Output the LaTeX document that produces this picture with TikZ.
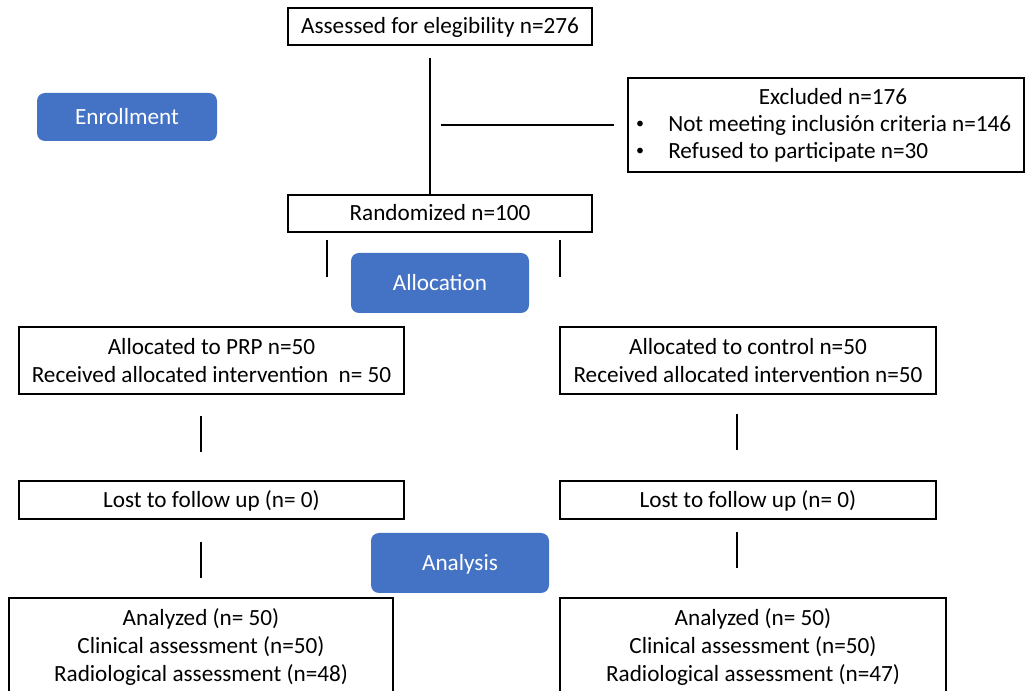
\documentclass[tikz,border=0pt]{standalone}
\usepackage{fontspec}
\setmainfont{Carlito}
\begin{document}
\begin{tikzpicture}[x=0.75pt,y=-0.75pt,
  every node/.style={font=\fontsize{17.4pt}{21pt}\selectfont, inner sep=0pt, text height=11.2pt, text depth=0pt},
  box/.style={draw=black, line width=1.5pt, fill=white, align=center},
  two/.style={text height=32.2pt},
  three/.style={text height=53.2pt},
  phase/.style={fill=phaseblue, rounded corners=6pt, text=white, minimum width=133.5pt, minimum height=45pt},
  bul/.style={font=\fontsize{12pt}{12pt}\selectfont, text height={}, text depth={}},
  conn/.style={line width=2pt, black}]
\definecolor{phaseblue}{HTML}{4472C4}
\useasboundingbox (0,0) rectangle (1026,691);
\clip (0,0) rectangle (1026,691);

% phase labels
\node[phase, minimum height=36pt, minimum width=135pt] (enroll) at (127,117) {Enrollment};
\node[phase] (alloc) at (440,283) {Allocation};
\node[phase] (anal) at (460,563) {Analysis};

% boxes
\node[box, minimum width=228pt, minimum height=27.75pt] (assess) at (440,26.5) {Assessed for elegibility n=276};
\node[box, minimum width=297pt, minimum height=70.5pt] (excl) at (826,125) {};
\node (exclT) at (833,97) {Excluded n=176};
\node[bul] (b1) at (640,124.5) {\textbullet};
\node[anchor=west] (e1) at (668,124.5) {Not meeting inclusión criteria n=146};
\node[bul] (b2) at (640,151.5) {\textbullet};
\node[anchor=west] (e2) at (668,151.5) {Refused to participate n=30};
\node[box, minimum width=228pt, minimum height=27.75pt] (rand) at (440,213.5) {Randomized n=100};

\node[box, two, minimum width=288.75pt, minimum height=50.25pt] (allocA) at (211.5,361) {Allocated to PRP n=50\\Received allocated intervention~ n= 50};
\node[box, two, minimum width=282pt, minimum height=50.25pt] (allocB) at (748,361) {Allocated to control n=50\\Received allocated intervention n=50};

\node[box, minimum width=288.75pt, minimum height=28.5pt] (lostA) at (211.5,500) {Lost to follow up (n= 0)};
\node[box, minimum width=282pt, minimum height=28.5pt] (lostB) at (748,500) {Lost to follow up (n= 0)};

\node[box, three, minimum width=288pt, minimum height=72.75pt] (analA) at (201,646.5) {Analyzed (n= 50)\\Clinical assessment (n=50)\\Radiological assessment (n=48)};
\node[box, three, minimum width=289.5pt, minimum height=72.75pt] (analB) at (753,646.5) {Analyzed (n= 50)\\Clinical assessment (n=50)\\Radiological assessment (n=47)};

% connectors
\coordinate (v0) at (430,58);
\draw[conn] (v0) -- (v0 |- rand.north);
\coordinate (h0) at (441,125);
\coordinate (h1) at (614,125);
\draw[conn] (h0) -- (h1);
\coordinate (s1a) at (327,240); \coordinate (s1b) at (327,277);
\draw[conn] (s1a) -- (s1b);
\coordinate (s2a) at (560,240); \coordinate (s2b) at (560,277);
\draw[conn] (s2a) -- (s2b);
\coordinate (s3a) at (201,416); \coordinate (s3b) at (201,452);
\draw[conn] (s3a) -- (s3b);
\coordinate (s4a) at (737,414); \coordinate (s4b) at (737,450);
\draw[conn] (s4a) -- (s4b);
\coordinate (s5a) at (201,542); \coordinate (s5b) at (201,578);
\draw[conn] (s5a) -- (s5b);
\coordinate (s6a) at (737,532); \coordinate (s6b) at (737,568);
\draw[conn] (s6a) -- (s6b);
\end{tikzpicture}
\end{document}
